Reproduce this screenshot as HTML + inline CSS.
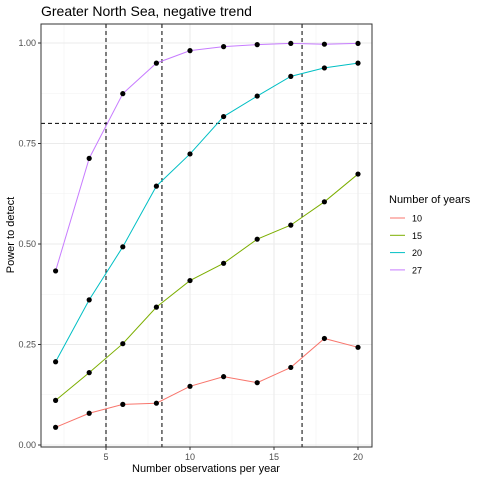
<!DOCTYPE html>
<html><head><meta charset="utf-8"><style>
body{margin:0;background:#fff;font-family:"Liberation Sans",sans-serif}
</style></head><body>
<svg id="chart" width="480" height="480" xmlns="http://www.w3.org/2000/svg" font-family="Liberation Sans, sans-serif">
<rect width="480" height="480" fill="#fff"/>
<text x="41" y="16" font-size="14" fill="#000">Greater North Sea, negative trend</text>
<g id="grid"></g><g id="refs"></g><g id="series"></g><g id="axes"></g>
<text x="206" y="472" font-size="11" text-anchor="middle">Number observations per year</text>
<text transform="translate(14,235) rotate(-90)" font-size="11" text-anchor="middle">Power to detect</text>
<g id="legend">
<text x="389" y="203" font-size="11">Number of years</text>
</g>
</svg>
<script>
const xValues=[2,4,6,8,10,12,14,16,18,20];
const seriesNames=["10","15","20","27"];
const seriesColors=["#F8766D","#7CAE00","#00BFC4","#C77CFF"];
const s10=[0.044,0.079,0.101,0.104,0.146,0.170,0.155,0.193,0.265,0.243];
const s15=[0.111,0.180,0.252,0.343,0.409,0.452,0.512,0.547,0.605,0.674];
const s20=[0.207,0.361,0.493,0.644,0.724,0.817,0.868,0.917,0.938,0.950];
const s27=[0.433,0.713,0.874,0.950,0.981,0.991,0.996,0.999,0.997,0.999];
const xTicks=[5,10,15,20];
const yTicks=[0,0.25,0.5,0.75,1];
const yTickLabels=["0.00","0.25","0.50","0.75","1.00"];
const vLines=[5,8.33,16.67];
const hLines=[0.8];
const NS="http://www.w3.org/2000/svg";
const L=41,R=372,T=24,B=447;
const X=v=>106+16.8*(v-5);
const Y=v=>445-402*v;
function mk(p,tag,at){const e=document.createElementNS(NS,tag);for(const k in at)e.setAttribute(k,at[k]);p.appendChild(e);return e;}
const grid=document.getElementById('grid'),refs=document.getElementById('refs'),ser=document.getElementById('series'),axes=document.getElementById('axes'),leg=document.getElementById('legend');
const panel=mk(grid,'rect',{x:L,y:T,width:R-L,height:B-T,fill:'#fff'});


const minorX=[2.5,7.5,12.5,17.5],minorY=[0.125,0.375,0.625,0.875];
minorX.forEach(v=>{const g=mk(grid,'line',{x1:X(v),x2:X(v),y1:T,y2:B,stroke:'#f2f2f2','stroke-width':0.6});});
minorY.forEach(v=>{const g=mk(grid,'line',{x1:L,x2:R,y1:Y(v),y2:Y(v),stroke:'#f2f2f2','stroke-width':0.6});});
xTicks.forEach(v=>{const g=mk(grid,'line',{x1:X(v),x2:X(v),y1:T,y2:B,stroke:'#ebebeb','stroke-width':1.1});
 const t=mk(axes,'line',{x1:X(v),x2:X(v),y1:B,y2:B+3,stroke:'#333'});
 const l=mk(axes,'text',{x:X(v),y:B+13,'font-size':9,fill:'#4d4d4d','text-anchor':'middle'});l.textContent=v;});
yTicks.forEach((v,i)=>{const g=mk(grid,'line',{x1:L,x2:R,y1:Y(v),y2:Y(v),stroke:'#ebebeb','stroke-width':1.1});
 const t=mk(axes,'line',{x1:L-3,x2:L,y1:Y(v),y2:Y(v),stroke:'#333'});
 const l=mk(axes,'text',{x:L-5,y:Y(v)+3,'font-size':9,fill:'#4d4d4d','text-anchor':'end'});l.textContent=yTickLabels[i];});
const border=mk(axes,'rect',{x:L,y:T,width:R-L,height:B-T,fill:'none',stroke:'#333','stroke-width':1});


[s10,s15,s20,s27].forEach((s,k)=>{
 const p=mk(ser,'polyline',{points:s.map((v,i)=>X(xValues[i])+','+Y(v)).join(' '),fill:'none',stroke:seriesColors[k],'stroke-width':1});
 
 
 s.forEach((v,i)=>{const c=mk(ser,'circle',{cx:X(xValues[i]),cy:Y(v),r:2.6,fill:'#000'});
  
  });
 const ly=218+k*17.3;
 const kl=mk(leg,'line',{x1:390,x2:405,y1:ly,y2:ly,stroke:seriesColors[k],'stroke-width':1});
 
 
 const lt=mk(leg,'text',{x:412,y:ly+3.5,'font-size':9,fill:'#000'});lt.textContent=seriesNames[k];
 
 
});
vLines.forEach(v=>{const d=mk(refs,'line',{x1:X(v),x2:X(v),y1:T,y2:B,stroke:'#000','stroke-dasharray':'4,3','stroke-width':1});
 
 });
hLines.forEach(v=>{const d=mk(refs,'line',{x1:L,x2:R,y1:Y(v),y2:Y(v),stroke:'#000','stroke-dasharray':'4,3','stroke-width':1});
 
 });
</script>
</body></html>
